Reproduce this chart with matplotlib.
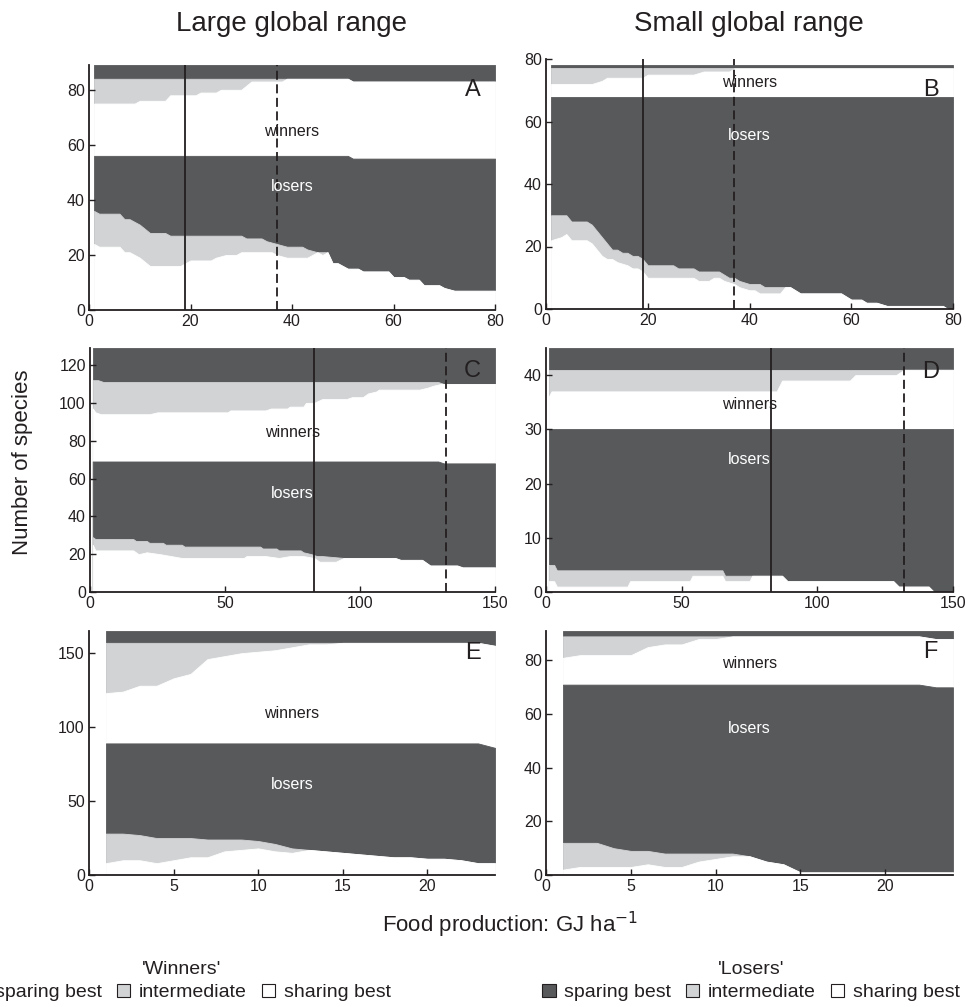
import matplotlib.pyplot as plt
from matplotlib.patches import Patch

plt.rcParams['font.family'] = ['Liberation Sans', 'DejaVu Sans']

DARK = '#58595b'
LIGHT = '#d1d3d4'
INK = '#231f20'

# Each panel: upper edge of every band, listed from the top band down
# (winners sparing, winners intermediate, winners sharing,
#  losers sparing, losers intermediate, losers sharing) as (x, y).
a_edges = [
    ([1, 80], [89, 89]),
    ([1, 51, 52, 80], [84, 84, 83, 83]),
    ([1, 9, 10, 15, 16, 21, 22, 25, 26, 30, 32, 38, 39, 51, 52, 80],
     [75, 75, 76, 76, 78, 78, 79, 79, 80, 80, 83, 83, 84, 84, 83, 83]),
    ([1, 51, 52, 80], [56, 56, 55, 55]),
    ([1, 2, 6, 7, 8, 10, 12, 15, 16, 30, 31, 34, 35, 37, 39, 42, 43, 45, 47, 48,
      49, 51, 53, 54, 59, 60, 62, 63, 65, 66, 69, 70, 72, 80],
     [36, 35, 35, 33, 33, 31, 28, 28, 27, 27, 26, 26, 25, 24, 23, 23, 22, 21, 21, 17,
      17, 15, 15, 14, 14, 12, 12, 11, 11, 9, 9, 8, 7, 7]),
    ([1, 2, 6, 7, 8, 10, 12, 18, 19, 20, 24, 25, 27, 29, 30, 36, 37, 39, 43, 44,
      45, 46, 47, 48, 49, 51, 53, 54, 59, 60, 62, 63, 65, 66, 69, 70, 72, 80],
     [24, 23, 23, 21, 21, 19, 16, 16, 17, 18, 18, 19, 20, 20, 21, 21, 20, 19, 19, 20,
      21, 20, 21, 17, 17, 15, 15, 14, 14, 12, 12, 11, 11, 9, 9, 8, 7, 7]),
]

b_edges = [
    ([1, 80], [78, 78]),
    ([1, 80], [77, 77]),
    ([1, 9, 11, 12, 19, 20, 29, 31, 36, 37, 80],
     [72, 72, 73, 74, 74, 75, 75, 76, 76, 77, 77]),
    ([1, 80], [68, 68]),
    ([1, 4, 5, 8, 9, 10, 11, 12, 13, 14, 15, 16, 17, 18, 19, 20, 25, 26, 29, 30,
      34, 35, 36, 37, 38, 40, 42, 43, 46, 47, 48, 49, 50, 58, 59, 60, 62, 63, 65, 67,
      78, 79, 80],
     [30, 30, 28, 28, 27, 25, 23, 21, 19, 19, 18, 18, 17, 17, 16, 14, 14, 13, 13, 12,
      12, 11, 10, 10, 9, 8, 8, 7, 7, 7, 7, 6, 5, 5, 4, 3, 3, 2, 2, 1,
      1, 0, 0]),
    ([1, 3, 4, 5, 8, 9, 10, 11, 12, 13, 14, 16, 17, 18, 19, 20, 29, 30, 32, 33,
      34, 35, 37, 38, 40, 41, 42, 46, 47, 48, 49, 50, 58, 59, 60, 62, 63, 65, 67, 78,
      79, 80],
     [22, 23, 24, 22, 22, 21, 19, 17, 16, 16, 15, 14, 13, 13, 12, 10, 10, 9, 9, 10,
      10, 9, 8, 7, 6, 6, 5, 5, 7, 7, 6, 5, 5, 4, 3, 3, 2, 2, 1, 1,
      0, 0]),
]

c_edges = [
    ([1, 150], [129, 129]),
    ([1, 3, 5, 129, 131, 150], [112, 112, 111, 111, 110, 110]),
    ([1, 2, 4, 22, 25, 51, 52, 65, 67, 73, 74, 79, 80, 83, 86, 95, 97, 101, 103, 106,
      107, 122, 125, 127, 130, 150],
     [97, 95, 94, 94, 95, 95, 96, 96, 97, 97, 98, 98, 100, 100, 102, 102, 103, 103, 105, 106,
      107, 107, 108, 109, 110, 110]),
    ([1, 129, 131, 150], [69, 69, 68, 68]),
    ([1, 2, 16, 17, 21, 22, 27, 28, 34, 35, 63, 64, 69, 70, 78, 79, 82, 84, 86, 94,
      113, 115, 123, 126, 136, 138, 150],
     [29, 28, 28, 27, 27, 26, 26, 25, 25, 24, 24, 23, 23, 22, 22, 21, 20, 19, 19, 18,
      18, 17, 17, 14, 14, 13, 13]),
    ([1, 2, 16, 18, 21, 26, 30, 34, 57, 58, 65, 70, 74, 79, 83, 85, 91, 94, 113, 115,
      123, 126, 136, 138, 150],
     [25, 22, 22, 20, 21, 20, 19, 18, 18, 19, 19, 18, 19, 19, 18, 16, 16, 18, 18, 17,
      17, 14, 14, 13, 13]),
]

d_edges = [
    ([1, 150], [45, 45]),
    ([1, 150], [41, 41]),
    ([1, 2, 85, 87, 112, 114, 129, 132, 150], [36, 37, 37, 39, 39, 40, 40, 41, 41]),
    ([1, 150], [30, 30]),
    ([1, 3, 4, 65, 66, 87, 89, 128, 130, 141, 143, 150],
     [5, 5, 4, 4, 3, 3, 2, 2, 1, 1, 0, 0]),
    ([1, 3, 4, 30, 31, 53, 54, 65, 66, 75, 76, 87, 89, 128, 130, 141, 143, 150],
     [2, 2, 1, 1, 2, 2, 3, 3, 2, 2, 3, 3, 2, 2, 1, 1, 0, 0]),
]

ef_x = [1, 2, 3, 4, 5, 6, 7, 8, 9, 10, 11, 12, 13, 14, 15, 16, 17, 18, 19, 20, 21, 22, 23, 24]

e_edges = [
    (ef_x, [165, 165, 165, 165, 165, 165, 165, 165, 165, 165, 165, 165,
            165, 165, 165, 165, 165, 165, 165, 165, 165, 165, 165, 165]),
    (ef_x, [157, 157, 157, 157, 157, 157, 157, 157, 157, 157, 157, 157,
            157, 157, 157, 157, 157, 157, 157, 157, 157, 157, 157, 155]),
    (ef_x, [123, 124, 128, 128, 133, 136, 146, 148, 150, 151, 152, 154,
            156, 156, 157, 157, 157, 157, 157, 157, 157, 157, 157, 155]),
    (ef_x, [89, 89, 89, 89, 89, 89, 89, 89, 89, 89, 89, 89,
            89, 89, 89, 89, 89, 89, 89, 89, 89, 89, 89, 86]),
    (ef_x, [28, 28, 27, 25, 25, 25, 24, 24, 24, 23, 21, 18,
            17, 16, 15, 14, 13, 12, 12, 11, 11, 10, 8, 8]),
    (ef_x, [8, 10, 10, 8, 10, 12, 12, 16, 17, 18, 16, 15,
            17, 16, 15, 14, 13, 12, 12, 11, 11, 10, 8, 8]),
]

f_edges = [
    (ef_x, [91, 91, 91, 91, 91, 91, 91, 91, 91, 91, 91, 91,
            91, 91, 91, 91, 91, 91, 91, 91, 91, 91, 91, 91]),
    (ef_x, [89, 89, 89, 89, 89, 89, 89, 89, 89, 89, 89, 89,
            89, 89, 89, 89, 89, 89, 89, 89, 89, 89, 88, 88]),
    (ef_x, [81, 82, 82, 82, 82, 85, 86, 86, 88, 88, 89, 89,
            89, 89, 89, 89, 89, 89, 89, 89, 89, 89, 88, 88]),
    (ef_x, [71, 71, 71, 71, 71, 71, 71, 71, 71, 71, 71, 71,
            71, 71, 71, 71, 71, 71, 71, 71, 71, 71, 70, 70]),
    (ef_x, [12, 12, 12, 10, 9, 9, 8, 8, 8, 8, 8, 7,
            5, 4, 1, 1, 1, 1, 1, 1, 1, 1, 1, 1]),
    (ef_x, [2, 3, 3, 3, 3, 4, 3, 3, 5, 6, 7, 7,
            5, 4, 1, 1, 1, 1, 1, 1, 1, 1, 1, 1]),
]

panel_labels = ['A', 'B', 'C', 'D', 'E', 'F']
panel_edges = [a_edges, b_edges, c_edges, d_edges, e_edges, f_edges]
x_limits = [80, 80, 150, 150, 24, 24]
y_limits = [89, 80, 129, 45, 165, 91]
x_ticks = [[0, 20, 40, 60, 80], [0, 20, 40, 60, 80], [0, 50, 100, 150], [0, 50, 100, 150],
           [0, 5, 10, 15, 20], [0, 5, 10, 15, 20]]
y_ticks = [[0, 20, 40, 60, 80], [0, 20, 40, 60, 80], [0, 20, 40, 60, 80, 100, 120],
           [0, 10, 20, 30, 40], [0, 50, 100, 150], [0, 20, 40, 60, 80]]
# vertical reference lines (solid, dashed)
ref_lines = [(19, 37), (19, 37), (83, 132), (83, 132), None, None]
# where "winners" / "losers" sit (y, data units)
winners_y = [65, 72.5, 84.5, 34.6, 109.5, 79]
losers_y = [45, 55.5, 52, 24.4, 61, 54.5]
letter_y = [0.90, 0.875, 0.905, 0.9, 0.91, 0.915]

# axes boxes in pixels: left, top, right, bottom
boxes = [(89, 65, 495, 310), (546, 59, 953, 309),
         (90, 348, 495, 592), (546, 348, 953, 592),
         (89, 631, 495, 875), (546, 631, 953, 875)]

W, H = 966, 1007
fig = plt.figure(figsize=(W / 100, H / 100), dpi=100)

band_colors = [DARK, LIGHT, 'white', DARK, LIGHT, 'white']

for i, lab in enumerate(panel_labels):
    l, t, r, b = boxes[i]
    ax = fig.add_axes([l / W, 1 - b / H, (r - l) / W, (b - t) / H])
    # paint bands from the top edge down
    for (xs, ys), col in zip(panel_edges[i], band_colors):
        ax.fill_between(xs, 0, ys, facecolor=col, edgecolor=col, lw=0.6, zorder=1)
    if ref_lines[i] is not None:
        ax.axvline(ref_lines[i][0], color=INK, lw=1.3, zorder=3)
        ax.axvline(ref_lines[i][1], color=INK, lw=1.3, ls=(0, (5, 2.5)), zorder=3)
    xm = x_limits[i] / 2
    ax.text(xm, winners_y[i], 'winners', color=INK, fontsize=11.5,
            ha='center', va='center', zorder=4)
    ax.text(xm, losers_y[i], 'losers', color='white', fontsize=11.5,
            ha='center', va='center', zorder=4)
    ax.text(0.945, letter_y[i], lab, transform=ax.transAxes, fontsize=17,
            color=INK, ha='center', va='center', zorder=4)
    ax.set_xlim(0, x_limits[i])
    ax.set_ylim(0, y_limits[i])
    ax.set_xticks(x_ticks[i])
    ax.set_yticks(y_ticks[i])
    ax.tick_params(direction='in', length=4, width=1, labelsize=11.5,
                   colors=INK, pad=3)
    for side in ['top', 'right']:
        ax.spines[side].set_visible(False)
    for side in ['left', 'bottom']:
        ax.spines[side].set_linewidth(1.3)
        ax.spines[side].set_color(INK)
        ax.spines[side].set_zorder(5)

fig.text(292 / W, 1 - 24 / H, 'Large global range', fontsize=20, color=INK,
         ha='center', va='center')
fig.text(749 / W, 1 - 24 / H, 'Small global range', fontsize=20, color=INK,
         ha='center', va='center')
fig.text(23 / W, 1 - 462 / H, 'Number of species', fontsize=16, color=INK,
         rotation=90, ha='center', va='center')
fig.text(510 / W, 1 - 925 / H, 'Food production: GJ ha$^{-1}$', fontsize=16,
         color=INK, ha='center', va='center')

handles = [Patch(facecolor=DARK, edgecolor=INK, lw=0.8),
           Patch(facecolor=LIGHT, edgecolor=INK, lw=0.8),
           Patch(facecolor='white', edgecolor=INK, lw=0.8)]
names = ['sparing best', 'intermediate', 'sharing best']
for cx, title in [(182, "'Winners'"), (751, "'Losers'")]:
    leg = fig.legend(handles, names, ncol=3, loc='center',
                     bbox_to_anchor=(cx / W, 1 - 981 / H), frameon=False,
                     title=title, fontsize=14, title_fontsize=14,
                     handlelength=0.7, handleheight=0.7, handletextpad=0.45,
                     columnspacing=0.75, borderpad=0, labelspacing=0.3)
    for txt in leg.get_texts():
        txt.set_color(INK)
    leg.get_title().set_color(INK)

fig.savefig('out.png', dpi=100)
